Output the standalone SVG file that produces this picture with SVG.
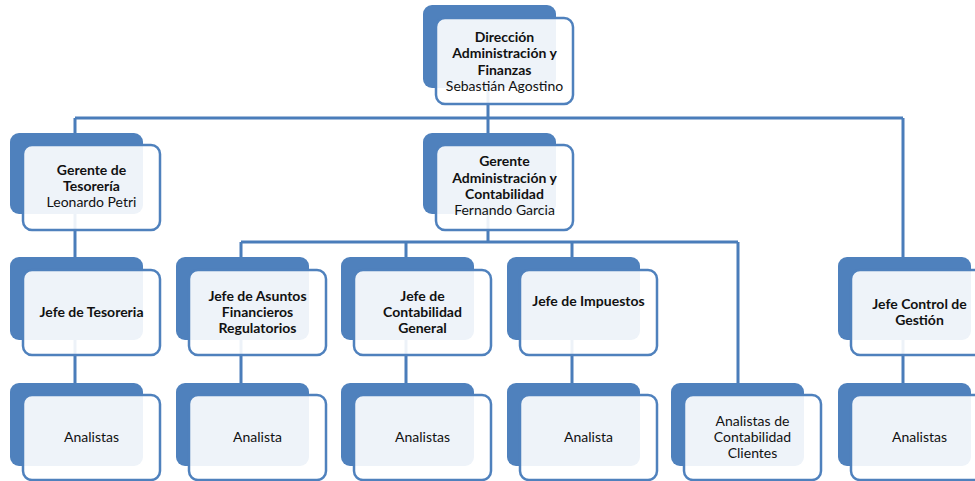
<svg xmlns="http://www.w3.org/2000/svg" width="975" height="481" viewBox="0 0 975 481">
<style>
.bk{fill:#4f81bd;}
.fr{fill:#ffffff;fill-opacity:0.9;stroke:#4f81bd;stroke-width:2.5;}
.ln{fill:none;stroke:#4a7dba;stroke-width:3;}
text{font-family:Lato,"Open Sans","Liberation Sans",sans-serif;font-size:14px;fill:#111;text-anchor:middle;}
.b{font-weight:bold;}
</style>
<rect width="975" height="481" fill="#ffffff"/>
<g id="connectors">
<path class="ln" d="M488 60V118M75 118H903M75 118V190M488 118V190M903 118V313"/>
<path class="ln" d="M488 190V242M241 242H738M241 242V313M406 242V313M572 242V313M738 242V437"/>
<path class="ln" d="M75 190V313"/>
<path class="ln" d="M75 313V437M241 313V437M406 313V437M572 313V437M903 313V437"/>
</g>
<g id="n-direccion">
<rect class="bk" x="423" y="5" width="133" height="83" rx="9"/>
<rect class="fr" x="436" y="18" width="137" height="86" rx="9"/>
<text x="504.5" y="42" class="b">Dirección</text>
<text x="504.5" y="58" class="b">Administración y</text>
<text x="504.5" y="75" class="b">Finanzas</text>
<text x="504.5" y="91">Sebastián Agostino</text>
</g>
<g id="n-gerente-tesoreria">
<rect class="bk" x="10" y="133" width="133" height="81" rx="9"/>
<rect class="fr" x="23" y="145" width="137" height="85" rx="9"/>
<text x="91.5" y="175" class="b">Gerente de</text>
<text x="91.5" y="191" class="b">Tesorería</text>
<text x="91.5" y="207">Leonardo Petri</text>
</g>
<g id="n-gerente-admin">
<rect class="bk" x="423" y="133" width="133" height="81" rx="9"/>
<rect class="fr" x="436" y="145" width="137" height="85" rx="9"/>
<text x="504.5" y="166" class="b">Gerente</text>
<text x="504.5" y="183" class="b">Administración y</text>
<text x="504.5" y="199" class="b">Contabilidad</text>
<text x="504.5" y="215">Fernando Garcia</text>
</g>
<g id="n-jefe-tesoreria">
<rect class="bk" x="10" y="257" width="133" height="83" rx="9"/>
<rect class="fr" x="23" y="270" width="137" height="85" rx="9"/>
<text x="91.5" y="317" class="b">Jefe de Tesoreria</text>
</g>
<g id="n-jefe-asuntos">
<rect class="bk" x="176" y="257" width="133" height="83" rx="9"/>
<rect class="fr" x="189" y="270" width="137" height="85" rx="9"/>
<text x="257.5" y="301" class="b">Jefe de Asuntos</text>
<text x="257.5" y="317" class="b">Financieros</text>
<text x="257.5" y="333" class="b">Regulatorios</text>
</g>
<g id="n-jefe-contabilidad">
<rect class="bk" x="341" y="257" width="133" height="83" rx="9"/>
<rect class="fr" x="354" y="270" width="137" height="85" rx="9"/>
<text x="422.5" y="301" class="b">Jefe de</text>
<text x="422.5" y="317" class="b">Contabilidad</text>
<text x="422.5" y="333" class="b">General</text>
</g>
<g id="n-jefe-impuestos">
<rect class="bk" x="507" y="257" width="133" height="83" rx="9"/>
<rect class="fr" x="520" y="270" width="137" height="85" rx="9"/>
<text x="588.5" y="306" class="b">Jefe de Impuestos</text>
</g>
<g id="n-jefe-control">
<rect class="bk" x="838" y="257" width="133" height="83" rx="9"/>
<rect class="fr" x="851" y="270" width="137" height="85" rx="9"/>
<text x="919.5" y="309" class="b">Jefe Control de</text>
<text x="919.5" y="325" class="b">Gestión</text>
</g>
<g id="n-analistas-1">
<rect class="bk" x="10" y="383" width="133" height="83" rx="9"/>
<rect class="fr" x="23" y="395" width="137" height="85" rx="9"/>
<text x="91.5" y="442">Analistas</text>
</g>
<g id="n-analista-2">
<rect class="bk" x="176" y="383" width="133" height="83" rx="9"/>
<rect class="fr" x="189" y="395" width="137" height="85" rx="9"/>
<text x="257.5" y="442">Analista</text>
</g>
<g id="n-analistas-3">
<rect class="bk" x="341" y="383" width="133" height="83" rx="9"/>
<rect class="fr" x="354" y="395" width="137" height="85" rx="9"/>
<text x="422.5" y="442">Analistas</text>
</g>
<g id="n-analista-4">
<rect class="bk" x="507" y="383" width="133" height="83" rx="9"/>
<rect class="fr" x="520" y="395" width="137" height="85" rx="9"/>
<text x="588.5" y="442">Analista</text>
</g>
<g id="n-analistas-clientes">
<rect class="bk" x="671" y="383" width="133" height="83" rx="9"/>
<rect class="fr" x="684" y="395" width="137" height="85" rx="9"/>
<text x="752.5" y="426">Analistas de</text>
<text x="752.5" y="442">Contabilidad</text>
<text x="752.5" y="458">Clientes</text>
</g>
<g id="n-analistas-6">
<rect class="bk" x="838" y="383" width="133" height="83" rx="9"/>
<rect class="fr" x="851" y="395" width="137" height="85" rx="9"/>
<text x="919.5" y="442">Analistas</text>
</g>
</svg>
